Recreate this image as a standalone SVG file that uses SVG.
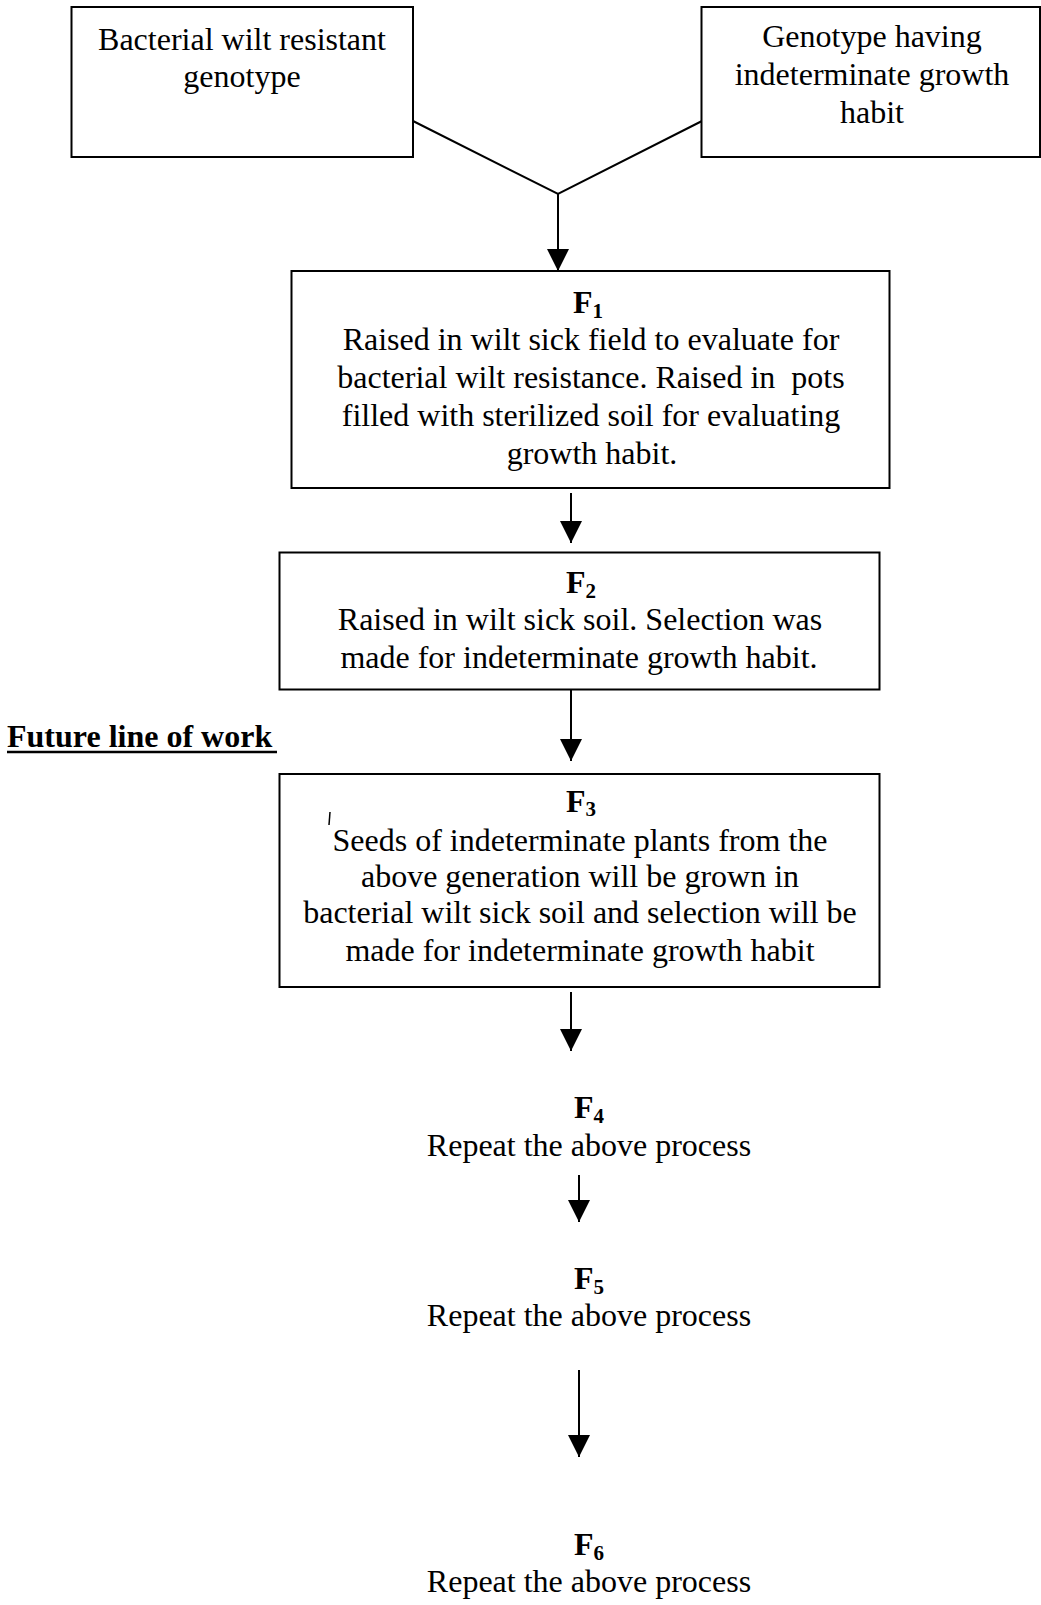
<svg xmlns="http://www.w3.org/2000/svg" width="1041" height="1605" viewBox="0 0 1041 1605">
<style>
  .box { fill: #ffffff; stroke: #000000; stroke-width: 2; }
  .t { font-family: "Liberation Serif", "Times New Roman", serif; font-size: 32px; fill: #000000; text-anchor: middle; }
  .lab { font-family: "Liberation Serif", "Times New Roman", serif; font-size: 32px; font-weight: bold; fill: #000000; text-anchor: middle; }
  .sub { font-size: 21px; }
  .head { font-family: "Liberation Serif", "Times New Roman", serif; font-size: 32px; font-weight: bold; fill: #000000; }
  .conn { fill: none; stroke: #000000; stroke-width: 2; }
</style>
<defs>
  <marker id="arrow" markerUnits="userSpaceOnUse" viewBox="0 0 22 22" markerWidth="22" markerHeight="22" refX="22" refY="11" orient="auto">
    <path d="M0,0 L22,11 L0,22 Z" fill="#000000"/>
  </marker>
</defs>
<rect x="0" y="0" width="1041" height="1605" fill="#ffffff"/>

<g id="connectors">
  <polyline class="conn" points="413,121 558,194 702,121"/>
  <line class="conn" x1="558" y1="194" x2="558" y2="271" marker-end="url(#arrow)"/>
  <line class="conn" x1="571" y1="493" x2="571" y2="543" marker-end="url(#arrow)"/>
  <line class="conn" x1="571" y1="690" x2="571" y2="761" marker-end="url(#arrow)"/>
  <line class="conn" x1="571" y1="992" x2="571" y2="1051" marker-end="url(#arrow)"/>
  <line class="conn" x1="579" y1="1175" x2="579" y2="1222" marker-end="url(#arrow)"/>
  <line class="conn" x1="579" y1="1370" x2="579" y2="1457" marker-end="url(#arrow)"/>
</g>

<g id="node-resistant">
  <rect class="box" x="71.5" y="7" width="341.5" height="150"/>
  <text class="t" x="242" y="50">Bacterial wilt resistant</text>
  <text class="t" x="242" y="87">genotype</text>
</g>

<g id="node-indeterminate">
  <rect class="box" x="701.5" y="7" width="338.5" height="150"/>
  <text class="t" x="872" y="47">Genotype having</text>
  <text class="t" x="872" y="85">indeterminate growth</text>
  <text class="t" x="872" y="123">habit</text>
</g>

<g id="node-f1">
  <rect class="box" x="291.5" y="271" width="598" height="217"/>
  <text class="lab" x="588" y="313">F<tspan class="sub" dy="5">1</tspan></text>
  <text class="t" x="591" y="350">Raised in wilt sick field to evaluate for</text>
  <text class="t" x="591" y="388" xml:space="preserve">bacterial wilt resistance. Raised in  pots</text>
  <text class="t" x="591" y="426">filled with sterilized soil for evaluating</text>
  <text class="t" x="592" y="464">growth habit.</text>
</g>

<g id="node-f2">
  <rect class="box" x="279.5" y="552.5" width="600" height="137"/>
  <text class="lab" x="581" y="593">F<tspan class="sub" dy="5">2</tspan></text>
  <text class="t" x="580" y="630">Raised in wilt sick soil. Selection was</text>
  <text class="t" x="579" y="668">made for indeterminate growth habit.</text>
</g>

<g id="heading-future">
  <text class="head" x="7" y="747">Future line of work</text>
  <line x1="7" y1="752" x2="277" y2="752" stroke="#000000" stroke-width="2.5"/>
</g>

<g id="node-f3">
  <rect class="box" x="279.5" y="774" width="600" height="213"/>
  <text class="lab" x="581" y="812">F<tspan class="sub" dy="4">3</tspan></text>
  <path d="M330,812 L329,825" stroke="#000000" stroke-width="1.5" fill="none"/>
  <text class="t" x="580" y="851">Seeds of indeterminate plants from the</text>
  <text class="t" x="580" y="887">above generation will be grown in</text>
  <text class="t" x="580" y="923">bacterial wilt sick soil and selection will be</text>
  <text class="t" x="580" y="961">made for indeterminate growth habit</text>
</g>

<g id="node-f4">
  <text class="lab" x="589" y="1118">F<tspan class="sub" dy="5">4</tspan></text>
  <text class="t" x="589" y="1156">Repeat the above process</text>
</g>

<g id="node-f5">
  <text class="lab" x="589" y="1289">F<tspan class="sub" dy="5">5</tspan></text>
  <text class="t" x="589" y="1326">Repeat the above process</text>
</g>

<g id="node-f6">
  <text class="lab" x="589" y="1555">F<tspan class="sub" dy="5">6</tspan></text>
  <text class="t" x="589" y="1592">Repeat the above process</text>
</g>
</svg>
